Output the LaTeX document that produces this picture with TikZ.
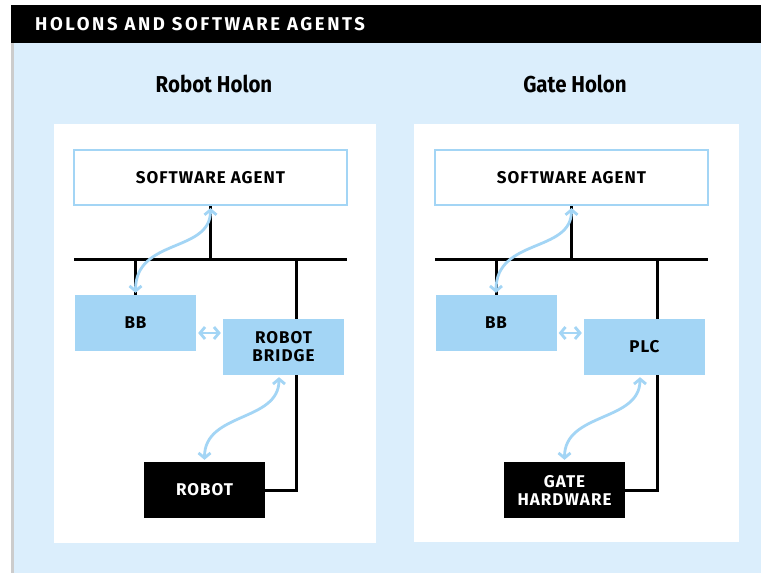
\documentclass[tikz,border=0pt]{standalone}
\usepackage{fontspec}
\setmainfont{Fira Sans}
\newfontfamily\lblfont[LetterSpace=6]{Fira Sans}
\newfontfamily\headfont[LetterSpace=14]{Fira Sans}
\newfontfamily\titlefont[FakeStretch=0.89]{Fira Sans}
\usetikzlibrary{arrows.meta}
\definecolor{bgblue}{HTML}{DBEEFC}
\definecolor{boxblue}{HTML}{A3D5F5}
\definecolor{arrblue}{HTML}{A3D5F5}
\begin{document}
\begin{tikzpicture}[x=1pt,y=-1pt,
  lbl/.style={font=\lblfont\fontsize{17}{18}\selectfont\bfseries, align=center},
  headlbl/.style={font=\headfont\fontsize{18.5}{20}\selectfont\bfseries},
  holontitle/.style={font=\titlefont\fontsize{23}{26}\selectfont\bfseries},
  sabox/.style={draw=boxblue, line width=2pt, fill=white, minimum width=273pt, minimum height=55pt, inner sep=0pt, lbl},
  bluebox/.style={fill=boxblue, minimum width=121pt, minimum height=56pt, inner sep=0pt, lbl},
  blackbox/.style={fill=black, text=white, minimum width=121pt, minimum height=56pt, inner sep=0pt, lbl},
  wire/.style={line width=3pt, black, line join=miter},
  link/.style={draw=arrblue, line width=2.8pt, {Straight Barb[length=5pt,width=12pt]}-{Straight Barb[length=5pt,width=12pt]}}]
\useasboundingbox (0,0) rectangle (761,573);
\fill[white] (0,0) rectangle (761,573);
\fill[bgblue] (11,43) rectangle (761,573);
\fill[black!20] (11,43) rectangle (13.5,573);
\fill[black] (11,5) rectangle (761,43);
\node[anchor=west, text=white, headlbl, inner sep=0pt] (title) at (35,24) {HOLONS AND SOFTWARE AGENTS};
% ---------------- Robot Holon
\fill[white] (54,124) rectangle (376,543);
\node[holontitle] (rh) at (214,84) {Robot Holon};
\node[sabox] (saL) at (210.5,177.5) {SOFTWARE AGENT};
\coordinate (busL1) at (74,259);
\coordinate (busL2) at (347,259);
\node[bluebox] (bbL) at (135.5,323) {BB};
\node[bluebox] (rb) at (283.5,347) {ROBOT\\BRIDGE};
\node[blackbox] (robot) at (204.5,490) {ROBOT};
\draw[wire] (busL1) -- (busL2);
\draw[wire] (saL.south) -- (saL.south |- busL1);
\draw[wire] (bbL.north) -- (bbL.north |- busL1);
\coordinate (rbT) at ([xshift=12.5pt]rb.north);
\coordinate (rbB) at ([xshift=12.5pt]rb.south);
\draw[wire] (rbT) -- (rbT |- busL1);
\draw[wire] (rbB) |- (robot.east);
\draw[link] ([yshift=-2pt]saL.south) .. controls +(0,45) and +(0,-55) .. ([yshift=2pt]bbL.north);
\coordinate (mL) at ([xshift=2pt,yshift=-10pt]bbL.east);
\coordinate (nL) at ([xshift=-2pt]mL -| rb.west);
\draw[link] (mL) -- (nL);
\draw[link] ([xshift=-4.5pt,yshift=-2pt]rb.south) .. controls +(0,45) and +(0,-48) .. ([yshift=2pt]robot.north);
% ---------------- Gate Holon
\fill[white] (414,124) rectangle (739,542);
\node[holontitle] (gh) at (575,84) {Gate Holon};
\node[sabox] (saR) at (571.5,177.5) {SOFTWARE AGENT};
\coordinate (busR1) at (435,259);
\coordinate (busR2) at (708,259);
\node[bluebox] (bbR) at (496,323) {BB};
\node[bluebox] (plc) at (644.5,347) {PLC};
\node[blackbox] (gate) at (564.5,490) {GATE\\HARDWARE};
\draw[wire] (busR1) -- (busR2);
\draw[wire] (saR.south) -- (saR.south |- busR1);
\draw[wire] (bbR.north) -- (bbR.north |- busR1);
\coordinate (plcT) at ([xshift=12.5pt]plc.north);
\coordinate (plcB) at ([xshift=12.5pt]plc.south);
\draw[wire] (plcT) -- (plcT |- busR1);
\draw[wire] (plcB) |- (gate.east);
\draw[link] ([yshift=-2pt]saR.south) .. controls +(0,45) and +(0,-55) .. ([yshift=2pt]bbR.north);
\coordinate (mR) at ([xshift=2pt,yshift=-10pt]bbR.east);
\coordinate (nR) at ([xshift=-2pt]mR -| plc.west);
\draw[link] (mR) -- (nR);
\draw[link] ([xshift=-4.5pt,yshift=-2pt]plc.south) .. controls +(0,45) and +(0,-48) .. ([yshift=2pt]gate.north);
\end{tikzpicture}
\end{document}
